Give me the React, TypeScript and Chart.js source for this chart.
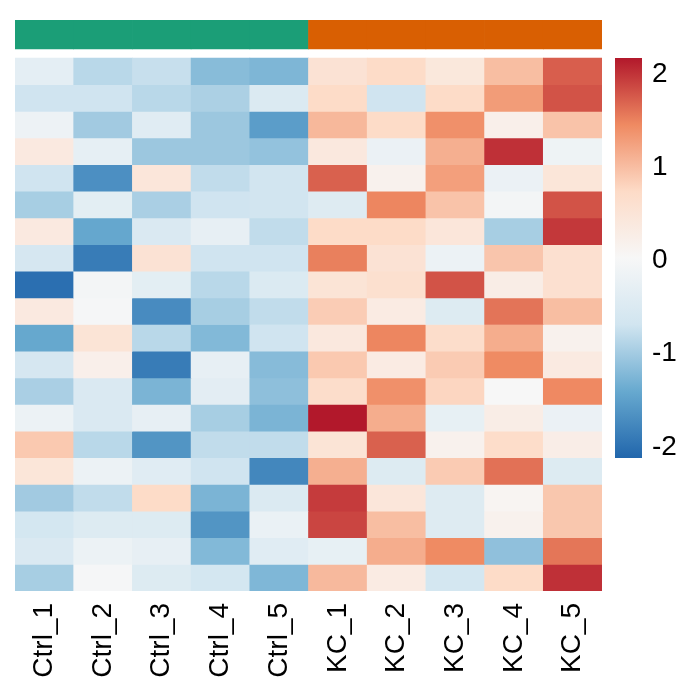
import React, { useEffect, useRef } from "react";
import { Chart, registerables } from "chart.js";

Chart.register(...registerables);

// ---- data ----
const sampleLabels = ["Ctrl_1", "Ctrl_2", "Ctrl_3", "Ctrl_4", "Ctrl_5", "KC_1", "KC_2", "KC_3", "KC_4", "KC_5"];
const sampleGroups = ["Ctrl", "Ctrl", "Ctrl", "Ctrl", "Ctrl", "KC", "KC", "KC", "KC", "KC"];
const legendTicks = [-2, -1, 0, 1, 2];
const scaleMin = -2.12;
const scaleMax = 2.17;

// z-scores per sample, rows top to bottom
const ctrl1 = [-0.33, -0.7, -0.17, 0.37, -0.7, -0.97, 0.37, -0.6, -2.02, 0.37, -1.42, -0.6, -0.95, -0.18, 0.9, 0.47, -1.01, -0.63, -0.52, -0.97];
const ctrl2 = [-0.85, -0.7, -1.01, -0.3, -1.68, -0.35, -1.43, -1.89, -0.05, -0.02, 0.52, 0.22, -0.52, -0.52, -0.85, -0.18, -0.8, -0.47, -0.18, -0.02];
const ctrl3 = [-0.76, -0.85, -0.41, -1.05, 0.45, -0.95, -0.52, 0.55, -0.35, -1.72, -0.85, -1.89, -1.27, -0.28, -1.62, -0.41, 0.72, -0.47, -0.28, -0.47];
const ctrl4 = [-1.18, -0.94, -1.05, -1.05, -0.8, -0.7, -0.28, -0.7, -0.85, -0.97, -1.22, -0.28, -0.36, -0.97, -0.8, -0.7, -1.27, -1.62, -1.22, -0.63];
const ctrl5 = [-1.25, -0.5, -1.53, -1.11, -0.68, -0.68, -0.8, -0.7, -0.5, -0.8, -0.7, -1.19, -1.14, -1.27, -0.8, -1.77, -0.5, -0.22, -0.4, -1.24];
const kc1 = [0.55, 0.72, 1.05, 0.4, 1.71, -0.45, 0.72, 1.52, 0.52, 0.87, 0.4, 0.9, 0.68, 2.17, 0.52, 1.13, 1.95, 1.89, -0.27, 1.04];
const kc2 = [0.72, -0.7, 0.72, -0.2, 0.18, 1.48, 0.72, 0.55, 0.62, 0.33, 1.48, 0.33, 1.4, 1.15, 1.71, -0.47, 0.45, 1.0, 1.15, 0.33];
const kc3 = [0.42, 0.72, 1.4, 1.13, 1.27, 0.95, 0.45, -0.18, 1.8, -0.47, 0.68, 0.88, 0.78, -0.27, 0.18, 0.88, -0.45, -0.45, 1.45, -0.63];
const kc4 = [1.0, 1.3, 0.22, 2.02, -0.2, -0.05, -0.97, 0.93, 0.28, 1.59, 1.15, 1.45, 0.03, 0.28, 0.7, 1.61, 0.1, 0.18, -1.13, 0.72];
const kc5 = [1.73, 1.8, 0.95, -0.15, 0.47, 1.8, 1.97, 0.6, 0.6, 1.0, 0.18, 0.35, 1.46, -0.2, 0.27, -0.47, 0.92, 0.92, 1.58, 2.02];

const sampleValues = [ctrl1, ctrl2, ctrl3, ctrl4, ctrl5, kc1, kc2, kc3, kc4, kc5];

// ---- styles ----
const FONT = "'Liberation Sans', Arial, Helvetica, sans-serif";
const groupColors: Record<string, string> = { Ctrl: "#1B9E77", KC: "#D95F02" };
const palette = ["#2166AC", "#67A9CF", "#D1E5F0", "#F7F7F7", "#FDDBC7", "#EF8A62", "#B2182B"];

function hexToRgb(h: string) {
  const n = parseInt(h.slice(1), 16);
  return [(n >> 16) & 255, (n >> 8) & 255, n & 255];
}
const paletteRgb = palette.map(hexToRgb);

function colorFor(v: number) {
  let t = (v - scaleMin) / (scaleMax - scaleMin);
  t = Math.max(0, Math.min(1, t));
  const pos = t * (palette.length - 1);
  const i = Math.min(palette.length - 2, Math.floor(pos));
  const f = pos - i;
  const a = paletteRgb[i];
  const b = paletteRgb[i + 1];
  const c = a.map((x, k) => Math.round(x + (b[k] - x) * f));
  return `rgb(${c[0]},${c[1]},${c[2]})`;
}

const ROWS = ctrl1.length;
// annotation band sits above row 0 (in row units)
const ANNOT_TOP = -1.426;
const ANNOT_BOTTOM = -0.338;

export default function App() {
  const mainRef = useRef<HTMLCanvasElement | null>(null);
  const barRef = useRef<HTMLCanvasElement | null>(null);

  useEffect(() => {
    const datasets: any[] = [];
    datasets.push({
      label: "group",
      data: sampleLabels.map(() => [ANNOT_TOP, ANNOT_BOTTOM]),
      backgroundColor: sampleGroups.map((g) => groupColors[g]),
      borderWidth: 0,
      grouped: false,
      barPercentage: 1,
      categoryPercentage: 1,
    });
    for (let r = 0; r < ROWS; r++) {
      datasets.push({
        label: "row" + (r + 1),
        data: sampleLabels.map(() => [r, r + 1]),
        backgroundColor: sampleValues.map((col) => colorFor(col[r])),
        borderWidth: 0,
        grouped: false,
        barPercentage: 1,
        categoryPercentage: 1,
      });
    }

    const main = new Chart(mainRef.current!, {
      type: "bar",
      data: { labels: sampleLabels, datasets },
      options: {
        responsive: false,
        animation: false,
        events: [],
        layout: { padding: { left: 15, top: 20, right: 98, bottom: 0 } },
        plugins: { legend: { display: false }, tooltip: { enabled: false } },
        scales: {
          x: {
            type: "category",
            grid: { display: false, drawTicks: false },
            border: { display: false },
            ticks: {
              autoSkip: false,
              minRotation: 90,
              maxRotation: 90,
              padding: 12,
              color: "#000",
              font: { family: FONT, size: 28 },
            },
            afterFit: (s: any) => {
              s.height = 109;
            },
          },
          y: {
            type: "linear",
            display: false,
            reverse: true,
            min: ANNOT_TOP,
            max: ROWS,
          },
        },
      },
    });

    const bar = new Chart(barRef.current!, {
      type: "bar",
      data: {
        labels: ["scale"],
        datasets: [
          {
            data: [[scaleMin, scaleMax]],
            borderWidth: 0,
            barPercentage: 1,
            categoryPercentage: 1,
            backgroundColor: (ctx: any) => {
              const chart = ctx.chart;
              const y = chart.scales.y;
              if (!chart.chartArea || !y) return palette[3];
              const g = chart.ctx.createLinearGradient(0, y.getPixelForValue(scaleMin), 0, y.getPixelForValue(scaleMax));
              palette.forEach((c, i) => g.addColorStop(i / (palette.length - 1), c));
              return g;
            },
          } as any,
        ],
      },
      options: {
        responsive: false,
        animation: false,
        events: [],
        layout: { padding: { left: 15, top: 58, right: 0, bottom: 242 } },
        plugins: { legend: { display: false }, tooltip: { enabled: false } },
        scales: {
          x: { display: false },
          y: {
            type: "linear",
            position: "right",
            min: scaleMin,
            max: scaleMax,
            grid: { display: false, drawTicks: false },
            border: { display: false },
            afterBuildTicks: (s: any) => {
              s.ticks = legendTicks.map((v) => ({ value: v }));
            },
            ticks: {
              padding: 10,
              color: "#000",
              font: { family: FONT, size: 28 },
              callback: (v: any) => String(v),
            },
            afterFit: (s: any) => {
              s.width = 58;
            },
          },
        },
      },
    });

    return () => {
      main.destroy();
      bar.destroy();
    };
  }, []);

  return (
    <div style={{ position: "fixed", left: 0, top: 0, width: 700, height: 700, background: "#fff" }}>
      <canvas ref={mainRef} width={700} height={700} style={{ position: "absolute", left: 0, top: 0 }} />
      <canvas ref={barRef} width={100} height={700} style={{ position: "absolute", left: 600, top: 0 }} />
    </div>
  );
}
